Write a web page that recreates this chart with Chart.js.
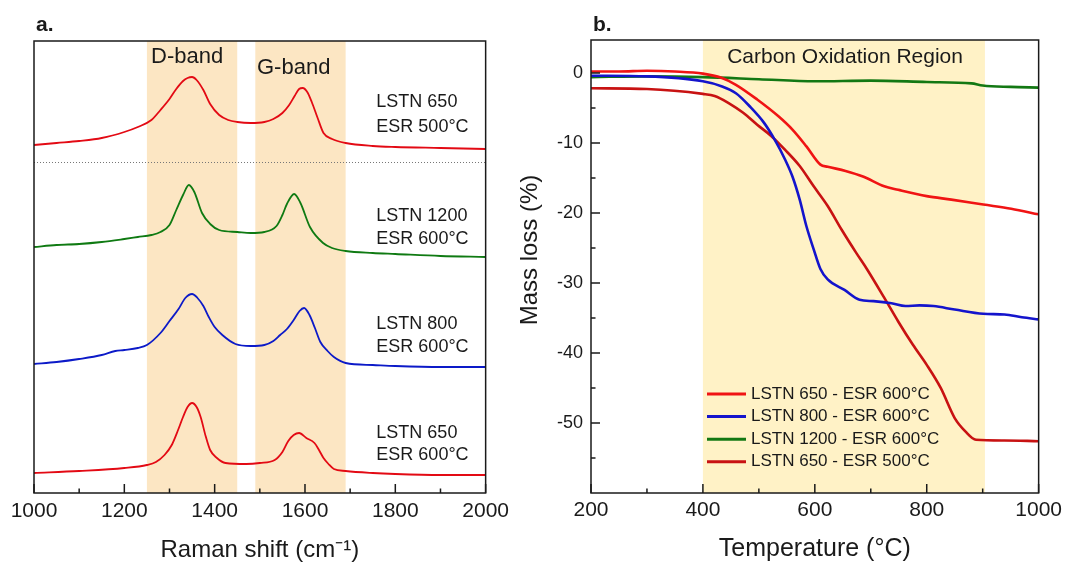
<!DOCTYPE html>
<html>
<head>
<meta charset="utf-8">
<script src="https://cdn.jsdelivr.net/npm/chart.js@4.4.0/dist/chart.umd.min.js"></script>
<style>
  body { margin: 0; background: #fff; width: 1067px; height: 562px; overflow: hidden; position: relative; }
  canvas { position: absolute; top: 0; }
  #ramanChart { left: 0; }
  #tgaChart { left: 515px; }
</style>
</head>
<body>
<canvas id="ramanChart" width="515" height="562"></canvas>
<canvas id="tgaChart" width="552" height="562"></canvas>
<script>
// ---- panel a: Raman spectra (offset intensity, a.u.) ----
var dBand = [1250, 1450];
var gBand = [1490, 1690];
var separatorLevel = 331;

var esr500X = [1000,1050,1100,1150,1200,1230,1260,1280,1300,1315,1330,1340,1350,1360,1375,1390,1410,1430,1450,1480,1510,1530,1550,1565,1577,1587,1595,1605,1615,1628,1641,1660,1690,1750,1800,1900,2000];
var esr500Y = [348,350,352,355,361,366,373,383,394,404,412,415,416,413,403,389,378,373,371,370,371,374,380,388,397,404,405,401,391,375,360,354,350,347,346,345,344];

var lstn1200X = [1000,1050,1100,1150,1200,1230,1260,1280,1300,1315,1330,1343,1355,1372,1390,1410,1450,1480,1510,1537,1550,1560,1576,1590,1611,1640,1660,1690,1750,1800,1900,2000];
var lstn1200Y = [246,248,249,251,254,256,258,261,268,283,298,308,301,280,269,263,261,260,261,267,278,289,299,290,266,250,245,242,240,239,237,236];

var lstn800X = [1000,1050,1100,1150,1180,1200,1230,1250,1280,1300,1320,1335,1350,1362,1375,1387,1400,1417,1446,1480,1510,1530,1545,1560,1575,1588,1598,1610,1622,1634,1650,1664,1690,1750,1800,1900,2000];
var lstn800Y = [129,131,134,138,142,143,145,148,160,172,184,195,199,195,187,176,166,158,149,147,148,152,158,164,173,182,185,178,165,151,142,136,130,128,127,126,126];

var lstn650X = [1000,1100,1200,1250,1270,1289,1305,1319,1330,1340,1350,1360,1369,1380,1390,1405,1424,1470,1500,1533,1550,1563,1575,1587,1603,1621,1631,1641,1652,1664,1690,1750,1800,1900,2000];
var lstn650Y = [20,22,25,28,31,38,48,63,76,86,90,86,76,57,43,35,30,29,30,33,41,52,58,60,55,50,43,35,29,24,22,20,19,18,18];

var sampleNames = [['LSTN 650', 'ESR 500°C'], ['LSTN 1200', 'ESR 600°C'], ['LSTN 800', 'ESR 600°C'], ['LSTN 650', 'ESR 600°C']];
var sampleLabelY = [[391, 366], [277, 254], [169, 146], [60, 38]];
var sampleLabelX = 1758;

// ---- panel b: TGA mass loss ----
var oxidationRegion = [400, 904];

var tA = [200,250,300,350,400,433,459,497,535,560,585,610,623,655,686,724,749,800,844,901,951,1000];
var mA = [0.2,0.2,0.3,0.2,-0.1,-0.7,-1.7,-3.8,-6.2,-8.1,-10.5,-13.1,-13.4,-14.0,-14.8,-16.2,-16.7,-17.6,-18.1,-18.8,-19.4,-20.2];

var tB = [200,300,400,433,459,484,509,528,547,560,573,585,598,610,623,653,680,705,737,762,787,812,850,901,939,970,1000];
var mB = [-0.4,-0.5,-1.2,-1.9,-2.9,-4.8,-7.1,-9.5,-12.4,-14.8,-18.1,-21.9,-25.2,-28.0,-29.5,-31.0,-32.4,-32.6,-32.9,-33.3,-33.2,-33.3,-33.8,-34.4,-34.5,-34.9,-35.2];

var tC = [200,300,400,500,600,700,800,880,900,950,1000];
var mC = [-0.6,-0.5,-0.6,-0.9,-1.2,-1.1,-1.3,-1.5,-1.8,-2.0,-2.1];

var tD = [200,300,400,421,446,472,497,522,547,573,598,623,648,674,693,724,749,775,800,825,850,869,888,939,1000];
var mD = [-2.2,-2.3,-3.0,-3.3,-4.3,-5.7,-7.4,-9.0,-11.0,-13.3,-16.2,-19.0,-22.4,-25.7,-28.0,-32.1,-35.5,-38.8,-41.7,-45.0,-49.3,-51.2,-52.4,-52.5,-52.6];

var tgaLabels = ['LSTN 650 - ESR 600°C', 'LSTN 800 - ESR 600°C', 'LSTN 1200 - ESR 600°C', 'LSTN 650 - ESR 500°C'];

var FONT = '"Liberation Sans", Arial, sans-serif';
Chart.defaults.font.family = FONT;
Chart.defaults.color = '#1a1a1a';

function pts(xs, ys) {
  return xs.map(function (v, i) { return { x: v, y: ys[i] }; });
}

function lineSet(label, xs, ys, color, width) {
  return {
    label: label,
    data: pts(xs, ys),
    borderColor: color,
    backgroundColor: color,
    borderWidth: width,
    pointRadius: 0,
    fill: false,
    cubicInterpolationMode: 'monotone'
  };
}

// inward tick marks + frame
function drawFrameAndTicks(chart, xTicks, yTicks) {
  var ctx = chart.ctx, a = chart.chartArea;
  ctx.save();
  ctx.strokeStyle = '#1a1a1a';
  ctx.lineWidth = 1.5;
  ctx.strokeRect(a.left, a.top, a.right - a.left, a.bottom - a.top);
  ctx.beginPath();
  xTicks.forEach(function (t) {
    var px = chart.scales.x.getPixelForValue(t[0]);
    ctx.moveTo(px, a.bottom);
    ctx.lineTo(px, a.bottom - t[1]);
  });
  yTicks.forEach(function (t) {
    var py = chart.scales.y.getPixelForValue(t[0]);
    ctx.moveTo(a.left, py);
    ctx.lineTo(a.left + t[1], py);
  });
  ctx.stroke();
  ctx.restore();
}

var ramanDecor = {
  id: 'ramanDecor',
  beforeDatasetsDraw: function (chart) {
    var ctx = chart.ctx, a = chart.chartArea, x = chart.scales.x, y = chart.scales.y;
    ctx.save();
    ctx.fillStyle = '#fce6c3';
    [dBand, gBand].forEach(function (b) {
      var x0 = x.getPixelForValue(b[0]), x1 = x.getPixelForValue(b[1]);
      ctx.fillRect(x0, a.top, x1 - x0, a.bottom - a.top);
    });
    var yy = Math.round(y.getPixelForValue(separatorLevel)) + 0.5;
    ctx.strokeStyle = '#777';
    ctx.lineWidth = 1;
    ctx.setLineDash([1, 2]);
    ctx.beginPath();
    ctx.moveTo(a.left, yy);
    ctx.lineTo(a.right, yy);
    ctx.stroke();
    ctx.restore();
  },
  afterDatasetsDraw: function (chart) {
    var ctx = chart.ctx, x = chart.scales.x, y = chart.scales.y;
    var xt = [];
    for (var v = 1000; v <= 2000; v += 100) xt.push([v, v % 200 === 0 ? 9 : 4.5]);
    drawFrameAndTicks(chart, xt, []);

    ctx.save();
    ctx.fillStyle = '#1a1a1a';
    ctx.textBaseline = 'middle';
    ctx.textAlign = 'left';
    ctx.font = '18px ' + FONT;
    sampleNames.forEach(function (lines, i) {
      lines.forEach(function (txt, j) {
        ctx.fillText(txt, x.getPixelForValue(sampleLabelX), y.getPixelForValue(sampleLabelY[i][j]));
      });
    });
    ctx.font = '22px ' + FONT;
    ctx.textAlign = 'center';
    ctx.fillText('D-band', x.getPixelForValue(1339), y.getPixelForValue(436));
    ctx.fillText('G-band', x.getPixelForValue(1575), y.getPixelForValue(425));
    ctx.font = 'bold 21px ' + FONT;
    ctx.textAlign = 'left';
    ctx.fillText('a.', 36, 25);
    ctx.restore();
  }
};

new Chart(document.getElementById('ramanChart'), {
  type: 'line',
  data: {
    datasets: [
      lineSet('LSTN 650 ESR 500°C', esr500X, esr500Y, '#e30a14', 1.8),
      lineSet('LSTN 1200 ESR 600°C', lstn1200X, lstn1200Y, '#0f7a12', 1.8),
      lineSet('LSTN 800 ESR 600°C', lstn800X, lstn800Y, '#0c1ac8', 1.8),
      lineSet('LSTN 650 ESR 600°C', lstn650X, lstn650Y, '#e30a14', 1.8)
    ]
  },
  options: {
    responsive: false,
    animation: false,
    devicePixelRatio: 1,
    layout: { padding: { left: 34, top: 41, right: 28, bottom: 0 } },
    plugins: { legend: { display: false }, tooltip: { enabled: false } },
    scales: {
      x: {
        type: 'linear',
        min: 1000, max: 2000,
        grid: { display: false, drawTicks: false },
        border: { display: false },
        ticks: {
          stepSize: 100, autoSkip: false, maxRotation: 0, padding: 6,
          font: { size: 21 }, color: '#1a1a1a',
          callback: function (v) { return v % 200 === 0 ? v : ''; }
        },
        title: { display: true, text: 'Raman shift (cm⁻¹)', font: { size: 24, lineHeight: 1 }, padding: 0, color: '#1a1a1a' },
        afterFit: function (s) { s.height = 69; }
      },
      y: { type: 'linear', min: 0, max: 452, display: false }
    }
  },
  plugins: [ramanDecor]
});

var tgaDecor = {
  id: 'tgaDecor',
  beforeDatasetsDraw: function (chart) {
    var ctx = chart.ctx, a = chart.chartArea, x = chart.scales.x, y = chart.scales.y;
    ctx.save();
    ctx.fillStyle = '#fff2c6';
    var x0 = x.getPixelForValue(oxidationRegion[0]), x1 = x.getPixelForValue(oxidationRegion[1]);
    ctx.fillRect(x0, a.top, x1 - x0, a.bottom - a.top);
    ctx.fillStyle = '#1a1a1a';
    ctx.font = '21px ' + FONT;
    ctx.textAlign = 'center';
    ctx.textBaseline = 'middle';
    ctx.fillText('Carbon Oxidation Region', x.getPixelForValue(654), y.getPixelForValue(2.3));
    ctx.restore();
  },
  afterDatasetsDraw: function (chart) {
    var ctx = chart.ctx, a = chart.chartArea;
    var xt = [], yt = [];
    for (var v = 200; v <= 1000; v += 100) xt.push([v, v % 200 === 0 ? 9 : 4.5]);
    for (var m = -55; m <= 0; m += 5) yt.push([m, m % 10 === 0 ? 9 : 4.5]);
    drawFrameAndTicks(chart, xt, yt);

    // legend inside the plot
    ctx.save();
    ctx.font = '17px ' + FONT;
    ctx.textBaseline = 'middle';
    ctx.textAlign = 'left';
    chart.data.datasets.forEach(function (ds, i) {
      var ly = a.top + 354 + i * 22.6;
      ctx.strokeStyle = ds.borderColor;
      ctx.lineWidth = 3;
      ctx.beginPath();
      ctx.moveTo(a.left + 116, ly);
      ctx.lineTo(a.left + 155, ly);
      ctx.stroke();
      ctx.fillStyle = '#1a1a1a';
      ctx.fillText(ds.label, a.left + 160, ly);
    });
    ctx.font = 'bold 21px ' + FONT;
    ctx.fillText('b.', 78, 25);

    // y axis title, sits a little above the plot centre as in the original
    ctx.font = '24px ' + FONT;
    ctx.textAlign = 'center';
    ctx.translate(15, 250);
    ctx.rotate(-Math.PI / 2);
    ctx.fillText('Mass loss (%)', 0, 0);
    ctx.restore();
  }
};

new Chart(document.getElementById('tgaChart'), {
  type: 'line',
  data: {
    datasets: [
      lineSet(tgaLabels[0], tA, mA, '#f01414', 2.6),
      lineSet(tgaLabels[1], tB, mB, '#1414cc', 2.6),
      lineSet(tgaLabels[2], tC, mC, '#137813', 2.6),
      lineSet(tgaLabels[3], tD, mD, '#c81212', 2.6)
    ]
  },
  options: {
    responsive: false,
    animation: false,
    devicePixelRatio: 1,
    layout: { padding: { left: 0, top: 40, right: 26, bottom: 0 } },
    plugins: { legend: { display: false }, tooltip: { enabled: false } },
    scales: {
      x: {
        type: 'linear',
        min: 200, max: 1000,
        grid: { display: false, drawTicks: false },
        border: { display: false },
        ticks: {
          stepSize: 100, autoSkip: false, maxRotation: 0, padding: 5,
          font: { size: 21 }, color: '#1a1a1a',
          callback: function (v) { return v % 200 === 0 ? v : ''; }
        },
        title: { display: true, text: 'Temperature (°C)', font: { size: 25, lineHeight: 1 }, padding: 0, color: '#1a1a1a' },
        afterFit: function (s) { s.height = 69; }
      },
      y: {
        type: 'linear',
        min: -60, max: 4.7,
        grid: { display: false, drawTicks: false },
        border: { display: false },
        ticks: {
          stepSize: 5, autoSkip: false, padding: 8,
          font: { size: 18 }, color: '#1a1a1a',
          callback: function (v) { return (Math.abs(v % 10) < 1e-6 && v > -60 && v <= 0) ? v : ''; }
        },
        afterFit: function (s) { s.width = 76; }
      }
    }
  },
  plugins: [tgaDecor]
});
</script>
</body>
</html>
